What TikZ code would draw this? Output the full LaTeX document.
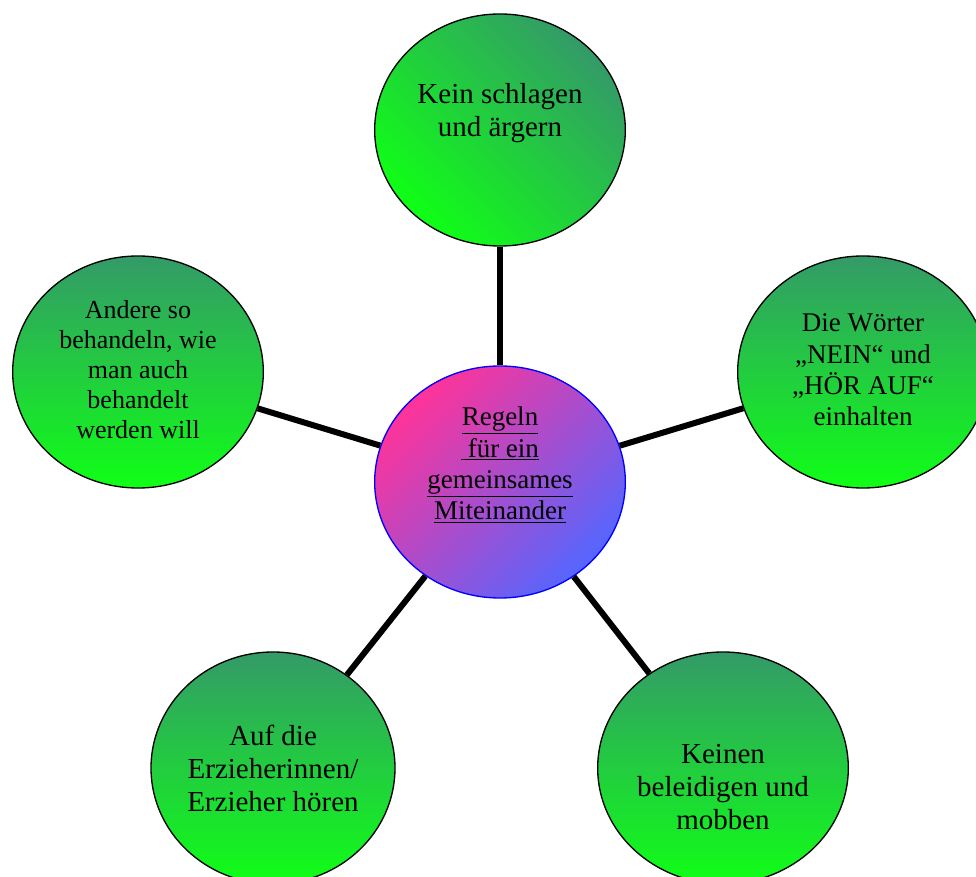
\documentclass[tikz,border=0pt]{standalone}
\usepackage{fontspec}
\setmainfont{Liberation Serif}
\usetikzlibrary{shapes.geometric}
\definecolor{dunkelgruen}{RGB}{52,154,104}
\definecolor{hellgruen}{RGB}{16,255,22}
\definecolor{rosa}{RGB}{255,51,153}
\definecolor{blaulila}{RGB}{85,102,255}
\begin{document}
\begin{tikzpicture}[x=0.75pt,y=-0.75pt]
	\tikzstyle{every node}+=[inner sep=0pt]
	\tikzstyle{kreis}=[ellipse, draw=black, line width=1pt, minimum width=188pt, minimum height=174pt, top color=dunkelgruen, bottom color=hellgruen]
	\tikzstyle{gross}=[align=center, font=\fontsize{21.75}{24.75}\selectfont]
	\tikzstyle{mittel}=[align=center, font=\fontsize{20.25}{23.5}\selectfont]
	\tikzstyle{klein}=[align=center, font=\fontsize{19.5}{22.5}\selectfont]
	\tikzstyle{verbindung}=[black, line width=4.5pt]
	\useasboundingbox (0,0) rectangle (976,877);
	\clip (0,0) rectangle (976,877);
	\node [kreis, shading angle=-45, label={[gross, yshift=12.75pt]center:{Kein schlagen\\und ärgern}}] (kein) at (500,130) {};
	\node [kreis, label={[mittel, yshift=1.5pt]center:{Die Wörter\\„NEIN“ und\\„HÖR AUF“\\einhalten}}] (woerter) at (863,372) {};
	\node [kreis, label={[klein, yshift=1.5pt]center:{Andere so\\behandeln, wie\\man auch\\behandelt\\werden will}}] (andere) at (138,372) {};
	\node [kreis, label={[gross, yshift=-14.25pt]center:{Keinen\\beleidigen und\\mobben}}] (mobben) at (723,768) {};
	\node [kreis, minimum width=183pt, label={[gross]center:{Auf die\\Erzieherinnen/\\Erzieher hören}}] (erzieher) at (273,768) {};
	\node [kreis, draw=blue, top color=rosa, bottom color=blaulila, shading angle=45, label={[mittel, yshift=12.75pt]center:{\underline{Regeln}\\\underline{\ für ein}\\\underline{gemeinsames}\\\underline{Miteinander}}}] (mitte) at (500,482) {};
	\draw [verbindung] (mitte) -- (kein);
	\draw [verbindung] (mitte) -- (woerter);
	\draw [verbindung] (mitte) -- (andere);
	\draw [verbindung] (mitte) -- (mobben);
	\draw [verbindung] (mitte) -- (erzieher);
\end{tikzpicture}
\end{document}
